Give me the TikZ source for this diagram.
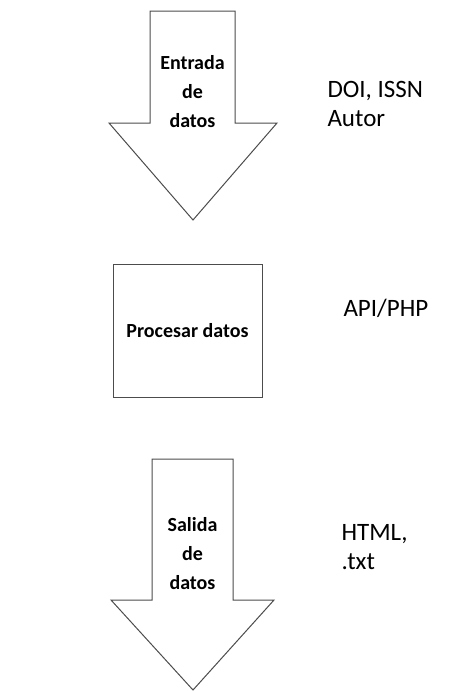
\documentclass[tikz,border=0pt]{standalone}
\usepackage{fontspec}
\setmainfont{Carlito}
\begin{document}
\begin{tikzpicture}[x=1pt,y=-1pt,line join=miter,line width=1pt,
	outline/.style={draw=black!70,fill=white},
	arrowtext/.style={font=\bfseries\fontsize{20}{29}\selectfont,align=center,inner sep=0pt},
	sidetext/.style={font=\fontsize{25}{29}\selectfont,align=left,anchor=west,inner sep=0pt}]
	\useasboundingbox (0,0) rectangle (453,691);
	% entrada
	\draw[outline] (150,11)--(235,11)--(235,123)--(277,123)--(193,220)--(109,123)--(150,123)--cycle;
	\node[arrowtext] (entrada) at (192.5,92) {Entrada\\de\\datos};
	\node[sidetext] (doi) at (327,104) {DOI, ISSN\\Autor};
	% procesar
	\node[outline,arrowtext,minimum width=149pt,minimum height=133pt] (procesar) at (187.5,330.5) {Procesar datos};
	\node[sidetext] (api) at (343,308) {API/PHP};
	% salida
	\draw[outline] (152,459)--(233,459)--(233,600)--(274,600)--(193,690)--(111,600)--(152,600)--cycle;
	\node[arrowtext] (salida) at (192.5,554) {Salida\\de\\datos};
	\node[sidetext] (html) at (341,547) {HTML,\\.txt};
\end{tikzpicture}
\end{document}
